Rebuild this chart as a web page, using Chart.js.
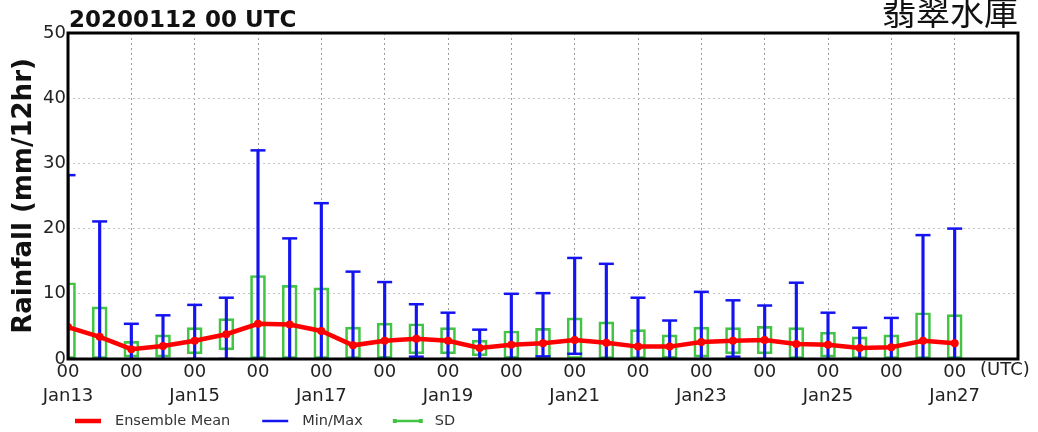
<!DOCTYPE html>
<html>
<head>
<meta charset="utf-8">
<script src="https://cdn.jsdelivr.net/npm/chart.js@4.4.1/dist/chart.umd.min.js"></script>
<style>
  body { margin: 0; background: #fff; }
  #wrap { width: 1038px; height: 432px; }
</style>
</head>
<body>
<div id="wrap"><canvas id="rainChart"></canvas></div>
<script>
const runTitle = "20200112 00 UTC";
const siteTitle = "翡翠水庫";
const hourLabel = "00";
const dayLabels = ["Jan13", "", "Jan15", "", "Jan17", "", "Jan19", "", "Jan21", "", "Jan23", "", "Jan25", "", "Jan27"];

// one value every 12 hours, Jan13 00 UTC .. Jan27 00 UTC
const meanValues = [4.9, 3.4, 1.5, 2.0, 2.8, 3.8, 5.4, 5.3, 4.3, 2.1, 2.8, 3.1, 2.8, 1.7, 2.2,
  2.4, 2.9, 2.5, 1.9, 1.9, 2.6, 2.8, 2.9, 2.3, 2.2, 1.7, 1.8, 2.8, 2.4];
const maxValues = [28.2, 21.1, 5.4, 6.7, 8.3, 9.4, 32.0, 18.5, 23.9, 13.4, 11.8, 8.4, 7.1, 4.5, 10.0,
  10.1, 15.5, 14.6, 9.4, 5.9, 10.3, 9.0, 8.2, 11.7, 7.1, 4.8, 6.3, 19.0, 20.0];
const minValues = [0, 0, 0, 0, 0, 0, 0, 0, 0, 0, 0, 0.35, 0, 0, 0,
  0.4, 0.8, 0, 0, 0, 0, 0.35, 0, 0, 0, 0, 0, 0, 0];
const sdValues = [6.8, 4.6, 1.2, 1.7, 2.0, 2.4, 7.4, 6.0, 6.6, 2.8, 2.7, 2.3, 2.0, 1.2, 2.1,
  2.3, 3.4, 3.2, 2.6, 1.8, 2.3, 2.0, 2.1, 2.5, 1.9, 1.7, 1.9, 4.3, 4.4];

const RED = "#ff0000";
const BLUE = "#1414f0";
const GREEN = "#44c444";
const FONT = "'DejaVu Sans', sans-serif";

const dayOf = i => i / 2;

const meanPoints = meanValues.map((v, i) => ({ x: dayOf(i), y: v }));
const rangeBars = maxValues.map((v, i) => ({ x: dayOf(i), y: [minValues[i], v] }));
const maxCaps = maxValues.map((v, i) => ({ x: dayOf(i), y: v }));
const minCaps = minValues.map((v, i) => ({ x: dayOf(i), y: v }));
const sdBoxes = sdValues.map((s, i) => ({
  x: dayOf(i),
  y: [Math.max(0, meanValues[i] - s), meanValues[i] + s]
}));

const legendItems = [
  { label: "Ensemble Mean", color: RED, width: 4.5 },
  { label: "Min/Max", color: BLUE, width: 2.5 },
  { label: "SD", color: GREEN, width: 2.5, marks: true }
];

const decor = {
  id: "decor",
  afterDraw(chart) {
    const { ctx, chartArea: a } = chart;
    ctx.save();

    ctx.strokeStyle = "#000";
    ctx.lineWidth = 3;
    ctx.strokeRect(a.left, a.top, a.right - a.left, a.bottom - a.top);

    ctx.fillStyle = "#111";
    ctx.textBaseline = "alphabetic";
    ctx.textAlign = "left";
    ctx.font = "bold 23px " + FONT;
    ctx.fillText(runTitle, a.left + 1, 27);

    ctx.textAlign = "right";
    ctx.font = "34px 'Noto Sans CJK TC'";
    ctx.fillText(siteTitle, a.right, 25);

    ctx.textAlign = "left";
    ctx.textBaseline = "top";
    ctx.fillStyle = "#222";
    ctx.font = "18px " + FONT;
    ctx.fillText("(UTC)", a.right - 38, a.bottom + 2);

    // legend
    ctx.font = "14.5px " + FONT;
    ctx.textBaseline = "middle";
    let x = 75;
    const y = 421;
    legendItems.forEach(item => {
      ctx.strokeStyle = item.color;
      ctx.lineWidth = item.width;
      ctx.beginPath();
      ctx.moveTo(x, y);
      ctx.lineTo(x + 26, y);
      ctx.stroke();
      if (item.marks) {
        ctx.fillStyle = item.color;
        ctx.fillRect(x - 2, y - 2, 4, 4);
        ctx.fillRect(x + 24, y - 2, 4, 4);
      }
      ctx.fillStyle = "#333";
      ctx.fillText(item.label, x + 40, y);
      x += 40 + ctx.measureText(item.label).width + 32;
    });

    ctx.restore();
  }
};

new Chart(document.getElementById("rainChart"), {
  type: "line",
  data: {
    datasets: [
      {
        label: "Ensemble Mean",
        data: meanPoints,
        borderColor: RED,
        backgroundColor: RED,
        borderWidth: 4.5,
        pointRadius: 4,
        pointBackgroundColor: RED,
        pointBorderWidth: 0,
        tension: 0,
        order: 0
      },
      {
        type: "bar",
        label: "Min/Max",
        data: rangeBars,
        backgroundColor: BLUE,
        borderWidth: 0,
        barThickness: 2.5,
        grouped: false,
        order: 1
      },
      {
        label: "max cap",
        data: maxCaps,
        showLine: false,
        pointStyle: "line",
        pointRadius: 7.5,
        pointBorderWidth: 2.5,
        pointBorderColor: BLUE,
        order: 1
      },
      {
        label: "min cap",
        data: minCaps,
        showLine: false,
        pointStyle: "line",
        pointRadius: 7.5,
        pointBorderWidth: 2.5,
        pointBorderColor: BLUE,
        order: 1
      },
      {
        type: "bar",
        label: "SD",
        data: sdBoxes,
        backgroundColor: "rgba(0,0,0,0)",
        borderColor: GREEN,
        borderWidth: 2,
        borderSkipped: false,
        barThickness: 15,
        grouped: false,
        order: 2
      }
    ]
  },
  options: {
    responsive: true,
    maintainAspectRatio: false,
    animation: false,
    events: [],
    layout: { padding: { top: 33, right: 20, left: 0, bottom: 0 } },
    plugins: {
      legend: { display: false },
      tooltip: { enabled: false }
    },
    scales: {
      x: {
        type: "linear",
        min: 0,
        max: 15,
        offset: false,
        z: 1,
        afterFit: s => { s.height = 73; },
        border: { display: false, dash: [2, 3] },
        grid: { color: "#9a9a9a", lineWidth: 1, offset: false, drawTicks: false, tickLength: 0 },
        ticks: {
          stepSize: 1,
          autoSkip: false,
          maxRotation: 0,
          padding: 2,
          color: "#222",
          font: { family: FONT, size: 18, lineHeight: 1.3 },
          callback: v => (Number.isInteger(v) && v < dayLabels.length) ? [hourLabel, dayLabels[v]] : ""
        }
      },
      y: {
        min: 0,
        max: 50,
        afterFit: s => { s.width = 68; },
        border: { display: false, dash: [2, 3] },
        grid: { color: "#c4c4c4", lineWidth: 1, drawTicks: false, tickLength: 0 },
        ticks: {
          stepSize: 10,
          padding: 2,
          color: "#222",
          font: { family: FONT, size: 18 }
        },
        title: {
          display: true,
          text: "Rainfall (mm/12hr)",
          color: "#111",
          font: { family: FONT, size: 26, weight: "bold" },
          padding: { top: 9, bottom: 0 }
        }
      }
    }
  },
  plugins: [decor]
});
</script>
</body>
</html>
